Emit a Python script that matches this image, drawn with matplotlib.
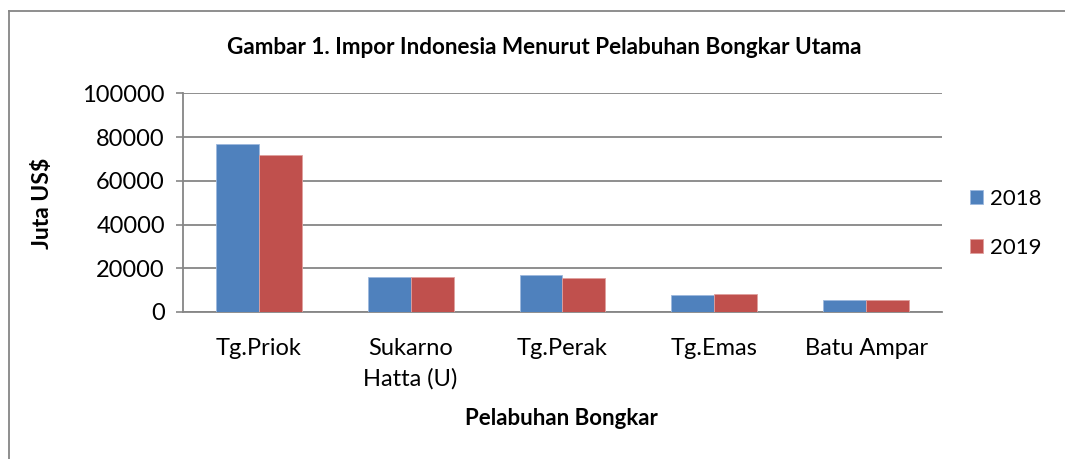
import numpy as np
import matplotlib.pyplot as plt
from matplotlib.lines import Line2D

# Данные
pelabuhan = ['Tg.Priok', 'Sukarno\nHatta (U)', 'Tg.Perak', 'Tg.Emas', 'Batu Ampar']
impor_2018 = [76700, 16100, 16800, 7900, 5300]
impor_2019 = [71800, 15800, 15600, 8200, 5500]
tahun = ['2018', '2019']
yticks = [0, 20000, 40000, 60000, 80000, 100000]

plt.rcParams['font.family'] = ['Lato', 'DejaVu Sans']

fig = plt.figure(figsize=(10.65, 4.59), dpi=100)
ax = fig.add_axes([0.1718, 0.3203, 0.7127, 0.476])

x = np.arange(len(pelabuhan))
w = 0.283
ax.bar(x - w / 2, impor_2018, w, color='#4F81BD', edgecolor='#9DB9DD', linewidth=0.6,
       label=tahun[0], zorder=3)
ax.bar(x + w / 2, impor_2019, w, color='#C0504D', edgecolor='#E0A09E', linewidth=0.6,
       label=tahun[1], zorder=3)

ax.set_xlim(-0.5, len(pelabuhan) - 0.5)
ax.set_ylim(0, 100000)
ax.set_yticks(yticks)
ax.set_yticklabels([str(v) for v in yticks], fontsize=17)
ax.set_xticks(x)
ax.set_xticklabels(pelabuhan, fontsize=17, linespacing=1.5)
ax.tick_params(axis='x', length=0, pad=19)
ax.tick_params(axis='y', length=5, width=1.2, color='#868686', pad=8)

ax.grid(axis='y', color='#868686', linewidth=1.3, zorder=0)
for s in ['top', 'right']:
    ax.spines[s].set_visible(False)
for s in ['left', 'bottom']:
    ax.spines[s].set_color('#868686')
    ax.spines[s].set_linewidth(1.3)

fig.text(0.511, 0.897, 'Gambar 1. Impor Indonesia Menurut Pelabuhan Bongkar Utama',
         fontsize=16.2, fontweight='bold', ha='center', va='center')
fig.text(0.040, 0.556, 'Juta US$', fontsize=16.5, fontweight='bold', rotation=90,
         ha='center', va='center')
fig.text(0.527, 0.089, 'Pelabuhan Bongkar', fontsize=16, fontweight='bold',
         ha='center', va='center')

fig.legend(loc='center left', bbox_to_anchor=(0.892, 0.513), fontsize=16, frameon=False,
           handlelength=0.6, handleheight=0.6, handletextpad=0.3, labelspacing=1.3)

# Рамка диаграммы
fig.add_artist(Line2D([0.0085, 1.0], [0.976, 0.976], color='#868686', linewidth=1.3))
fig.add_artist(Line2D([0.0085, 0.0085], [0.0, 0.976], color='#868686', linewidth=1.3))

fig.savefig('out.png', dpi=100)
